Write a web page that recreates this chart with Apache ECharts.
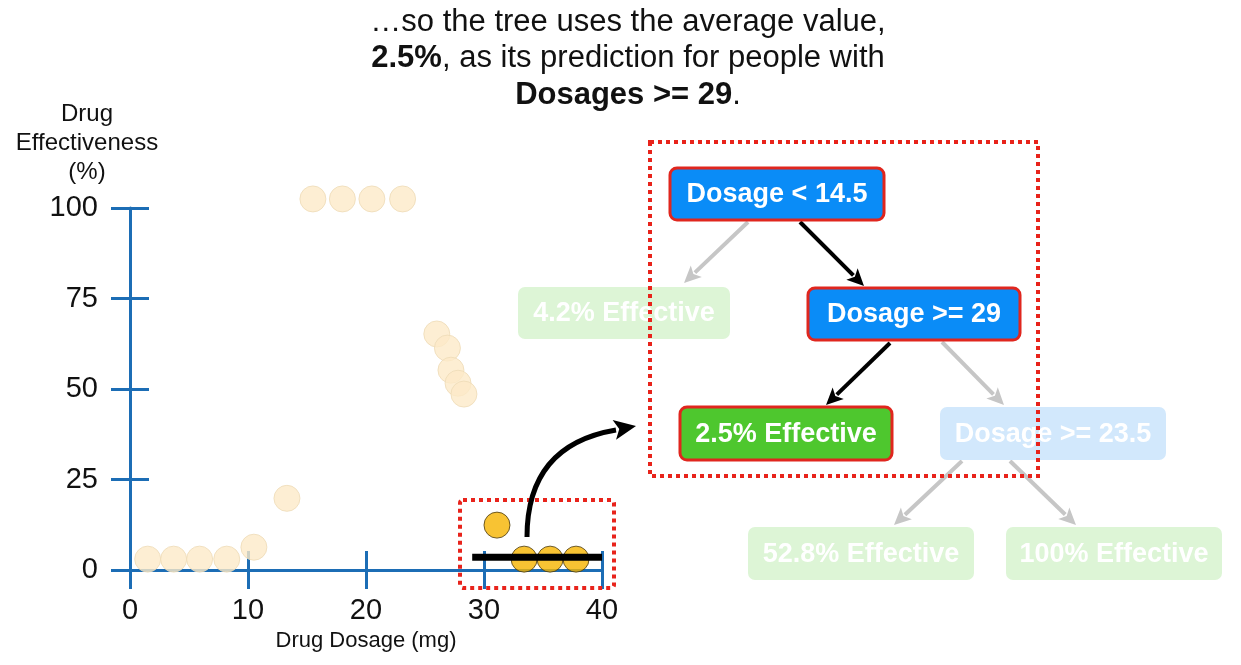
<!DOCTYPE html>
<html>
<head>
<meta charset="utf-8">
<script src="https://cdn.jsdelivr.net/npm/echarts@6/dist/echarts.min.js"></script>
<style>html,body{margin:0;padding:0;background:#fff;}#c{width:1241px;height:665px;}</style>
</head>
<body>
<div id="c"></div>
<script>
// ---- data ----
var xTicks = [0, 10, 20, 30, 40];
var yTicks = [0, 25, 50, 75, 100];
var fadedPoints = [[1.5,3],[3.7,3],[5.9,3],[8.2,3],[10.5,6.3],[13.3,19.8],
  [15.5,102.5],[18,102.5],[20.5,102.5],[23.1,102.5],
  [26,65.2],[26.9,61.3],[27.2,55.2],[27.8,51.6],[28.3,48.6]];
var highlightPoints = [[31.1,12.4],[33.4,3],[35.6,3],[37.8,3]];
var averageLine = [[29,3.5],[40,3.5]];
var titleLines = ['…so the tree uses the average value,', '{b|2.5%}, as its prediction for people with', '{b|Dosages >= 29}.'];
var treeNodes = [
  {text:'Dosage < 14.5', kind:'blueActive'},
  {text:'4.2% Effective', kind:'greenFaded'},
  {text:'Dosage >= 29', kind:'blueActive'},
  {text:'2.5% Effective', kind:'greenActive'},
  {text:'Dosage >= 23.5', kind:'blueFaded'},
  {text:'52.8% Effective', kind:'greenFaded'},
  {text:'100% Effective', kind:'greenFaded'}
];

// ---- layout (annotation geometry) ----
var nodeBoxes = [
  [670,168,214,52],[518,287,212,52],[808,288,212,52],[680,407,212,53],
  [940,407,226,53],[748,527,226,53],[1006,527,216,53]
];
var styles = {
  blueActive:{fill:'#0A8CF7', stroke:'#E0261E', lw:3, text:'#fff'},
  greenActive:{fill:'#4EC72E', stroke:'#E0261E', lw:3, text:'#fff'},
  blueFaded:{fill:'#D2E8FC', stroke:null, lw:0, text:'#fff'},
  greenFaded:{fill:'#DDF5D6', stroke:null, lw:0, text:'#fff'}
};
var axisColor = '#1C6DB5';
var FONT = '"Liberation Sans", Arial, Helvetica, sans-serif';

function arrow(x1,y1,x2,y2,color,w,z){
  var dx=x2-x1, dy=y2-y1, L=Math.sqrt(dx*dx+dy*dy), ux=dx/L, uy=dy/L;
  var hl=17, hw=8;
  var bx=x2-ux*hl, by=y2-uy*hl;
  return [
    {type:'line', z:z, shape:{x1:x1,y1:y1,x2:bx+ux*2,y2:by+uy*2}, style:{stroke:color,lineWidth:w}},
    {type:'polygon', z:z, shape:{points:[[x2,y2],[bx-uy*hw,by+ux*hw],[bx+ux*4,by+uy*4],[bx+uy*hw,by-ux*hw]]}, style:{fill:color}}
  ];
}

var graphics = [];
// title
graphics.push({type:'text', x:628, y:4, z:10, style:{
  text: titleLines.join('\n'), align:'center', verticalAlign:'top',
  font:'31px '+FONT, fill:'#111', lineHeight:36.5,
  rich:{b:{fontWeight:'bold', fontSize:31, fontFamily:FONT, lineHeight:36.5, fill:'#111'}}
}});
// y axis name
graphics.push({type:'text', x:87, y:100, z:10, style:{
  text:'Drug\nEffectiveness\n(%)', align:'center', verticalAlign:'top',
  font:'24px '+FONT, fill:'#111', lineHeight:29
}});
// gray (faded) arrows
var gray = '#C6C6C6';
graphics = graphics.concat(arrow(748,222,684,283,gray,4,5));
graphics = graphics.concat(arrow(942,342,1004,405,gray,4,5));
graphics = graphics.concat(arrow(962,461,894,525,gray,4,5));
graphics = graphics.concat(arrow(1010,461,1076,525,gray,4,5));
// black arrows
graphics = graphics.concat(arrow(800,222,864,286,'#000',4,6));
graphics = graphics.concat(arrow(890,343,826,405,'#000',4,6));
// nodes
treeNodes.forEach(function(n,i){
  var b=nodeBoxes[i], s=styles[n.kind];
  var st={fill:s.fill};
  if(s.stroke){st.stroke=s.stroke; st.lineWidth=s.lw;}
  graphics.push({type:'rect', z:7, shape:{x:b[0],y:b[1],width:b[2],height:b[3],r:7}, style:st});
  graphics.push({type:'text', z:8, x:b[0]+b[2]/2, y:b[1]+b[3]/2+1, style:{
    text:n.text, align:'center', verticalAlign:'middle', font:'bold 27px '+FONT, fill:s.text}});
});
// big red dotted box
graphics.push({type:'rect', z:9, shape:{x:650,y:142,width:388,height:334}, style:{
  fill:'none', stroke:'#E8231B', lineWidth:4, lineDash:[4,4], lineCap:'butt'}});
// small red dotted box
graphics.push({type:'rect', z:9, shape:{x:460,y:500,width:154,height:88,r:3}, style:{
  fill:'none', stroke:'#E8231B', lineWidth:4, lineDash:[4,4], lineCap:'butt'}});
// curved arrow
graphics.push({type:'bezierCurve', z:9, shape:{x1:527,y1:537,cpx1:527,cpy1:445,x2:616,y2:430}, style:{stroke:'#000', lineWidth:5, fill:'none'}});
(function(){
  var ux=86, uy=-15, L=Math.sqrt(ux*ux+uy*uy); ux/=L; uy/=L;
  var tx=636, ty=426, hl=22, hw=10, bx=tx-ux*hl, by=ty-uy*hl;
  graphics.push({type:'polygon', z:9, shape:{points:[[tx,ty],[bx-uy*hw,by+ux*hw],[bx+ux*5,by+uy*5],[bx+uy*hw,by-ux*hw]]}, style:{fill:'#000'}});
})();

var chart = echarts.init(document.getElementById('c'));
var tickStyle = {color:axisColor, width:3};
chart.setOption({
  animation:false,
  grid:{left:130, right:639, top:208, bottom:95, containLabel:false},
  xAxis:[{
    type:'value', min:xTicks[0], max:xTicks[xTicks.length-1], interval:10,
    axisLine:{show:true, onZero:false, lineStyle:{color:axisColor, width:3}},
    axisTick:{show:true, inside:false, length:19, lineStyle:tickStyle},
    axisLabel:{show:true, fontSize:29, color:'#111', margin:26, fontFamily:FONT},
    splitLine:{show:false},
    name:'Drug Dosage (mg)', nameLocation:'middle', nameGap:60,
    nameTextStyle:{fontSize:22, color:'#111', fontFamily:FONT}
  },{
    type:'value', min:xTicks[0], max:xTicks[xTicks.length-1], interval:10, position:'bottom',
    axisLine:{show:false}, axisTick:{show:true, inside:true, length:19, lineStyle:tickStyle},
    axisLabel:{show:false}, splitLine:{show:false}
  }],
  yAxis:[{
    type:'value', min:yTicks[0], max:yTicks[yTicks.length-1], interval:25,
    axisLine:{show:true, onZero:false, lineStyle:{color:axisColor, width:3}},
    axisTick:{show:true, inside:false, length:19, lineStyle:tickStyle},
    axisLabel:{show:true, fontSize:29, color:'#111', margin:32, fontFamily:FONT},
    splitLine:{show:false}
  },{
    type:'value', min:yTicks[0], max:yTicks[yTicks.length-1], interval:25, position:'left',
    axisLine:{show:false}, axisTick:{show:true, inside:true, length:19, lineStyle:tickStyle},
    axisLabel:{show:false}, splitLine:{show:false}
  }],
  series:[{
    type:'scatter', data:fadedPoints, symbolSize:26, clip:false, z:3,
    itemStyle:{color:'#FCEAC8', borderColor:'#EEDBB6', borderWidth:1}
  },{
    type:'scatter', data:highlightPoints, symbolSize:26, clip:false, z:4,
    itemStyle:{color:'#F6B400', borderColor:'#4A3A10', borderWidth:1}
  },{
    type:'line', data:averageLine, symbol:'none', clip:false, z:5,
    lineStyle:{color:'#000', width:7}
  }],
  graphic:graphics
});
</script>
</body>
</html>
